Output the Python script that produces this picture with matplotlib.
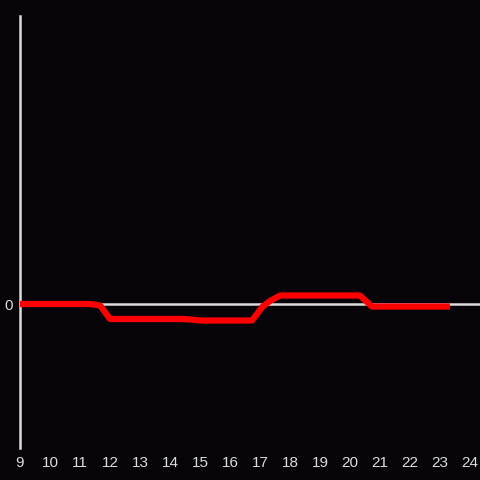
import matplotlib
matplotlib.use("Agg")
from matplotlib import pyplot as plt

plt.rcParams['font.family'] = ['Liberation Sans', 'DejaVu Sans']

# hour of day vs. deviation (arbitrary units)
hours = [9, 11.33, 11.67, 12.0, 14.4, 14.67, 15.0, 16.73, 16.9, 17.07, 17.33, 17.67, 20.33, 20.73, 23.33]
values = [0, 0, -1.5, -15, -15, -15.5, -16.5, -16.5, -10, -3, 3, 8.5, 8.5, -2.5, -2.5]
xticks = list(range(9, 25))

bg = '#060408'
fg = '#dcdcdc'

fig = plt.figure(figsize=(4.8, 4.8), dpi=100, facecolor=bg)
ax = fig.add_axes([20/480, 32/480, 460/480, 432/480], facecolor=bg)

ax.axhline(0, color=fg, lw=1.8, zorder=1)
ax.plot(hours, values, color='#ff0000', lw=4.5, solid_joinstyle='round',
        solid_capstyle='butt', zorder=3)

ax.set_xlim(9, 9 + 460/30)
ax.set_ylim(-144, 288)
ax.set_xticks(xticks)
ax.set_yticks([0])
ax.tick_params(length=0, colors=fg, labelsize=11)
ax.tick_params(axis='x', pad=6)
ax.tick_params(axis='y', pad=5)

for s in ['top', 'right', 'bottom']:
    ax.spines[s].set_visible(False)
ax.spines['left'].set_color(fg)
ax.spines['left'].set_linewidth(1.8)

fig.savefig('out.png', facecolor=bg)
